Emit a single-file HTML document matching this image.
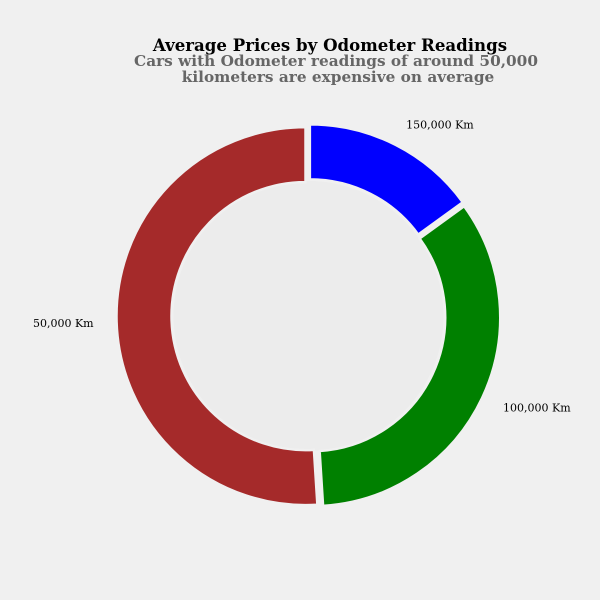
<!DOCTYPE html>
<html><head><meta charset="utf-8"><style>
body{margin:0;background:#f0f0f0;}
svg{display:block;font-family:"DejaVu Serif","Liberation Serif",serif;}
</style></head><body>
<svg id="chart" width="600" height="600">
<rect width="600" height="600" fill="#f0f0f0"/>
<text x="330" y="51" text-anchor="middle" font-size="16.6" font-weight="bold" fill="#000">Average Prices by Odometer Readings</text>
<text x="336" y="66" text-anchor="middle" font-size="15.3" font-weight="bold" fill="#666">Cars with Odometer readings of around 50,000</text>
<text x="338" y="82" text-anchor="middle" font-size="15.3" font-weight="bold" fill="#666">kilometers are expensive on average</text>
<g id="slices"></g>
</svg>
<script>
const categories = ["150,000 Km", "100,000 Km", "50,000 Km"];
const values = [15, 34, 51];
const colors = ["#0000ff", "#008000", "#a52a2a"];
const cx = 308.5, cy = 316, R = 189, r = 134, explode = 3, labelR = 212;
const g = document.getElementById('slices');
const ns = 'http://www.w3.org/2000/svg';
const total = values.reduce((a, b) => a + b, 0);
function pt(a, rad, ox, oy) { return [ox + rad * Math.sin(a), oy - rad * Math.cos(a)]; }
const hole = document.createElementNS(ns, 'circle');
hole.setAttribute('cx', cx); hole.setAttribute('cy', cy); hole.setAttribute('r', r + 1);
hole.setAttribute('fill', '#ececec');


g.appendChild(hole);
let start = 0;
values.forEach((v, i) => {
  const sweep = v / total * 2 * Math.PI;
  const end = start + sweep, mid = start + sweep / 2;
  const ox = cx + explode * Math.sin(mid), oy = cy - explode * Math.cos(mid);
  const large = sweep > Math.PI ? 1 : 0;
  const p1 = pt(start, R, ox, oy), p2 = pt(end, R, ox, oy), p3 = pt(end, r, ox, oy), p4 = pt(start, r, ox, oy);
  const path = document.createElementNS(ns, 'path');
  path.setAttribute('d', `M${p1[0]},${p1[1]} A${R},${R} 0 ${large} 1 ${p2[0]},${p2[1]} L${p3[0]},${p3[1]} A${r},${r} 0 ${large} 0 ${p4[0]},${p4[1]} Z`);
  path.setAttribute('fill', colors[i]);
  path.setAttribute('stroke', '#f0f0f0');
  path.setAttribute('stroke-width', '2.5');
  
  
  g.appendChild(path);
  const lp = pt(mid, labelR, ox, oy);
  const t = document.createElementNS(ns, 'text');
  t.setAttribute('x', lp[0]);
  t.setAttribute('y', lp[1] + 4);
  t.setAttribute('text-anchor', Math.sin(mid) >= 0 ? 'start' : 'end');
  t.setAttribute('font-size', '11');
  t.textContent = categories[i];
  
  
  g.appendChild(t);
  start = end;
});
</script>
</body></html>
